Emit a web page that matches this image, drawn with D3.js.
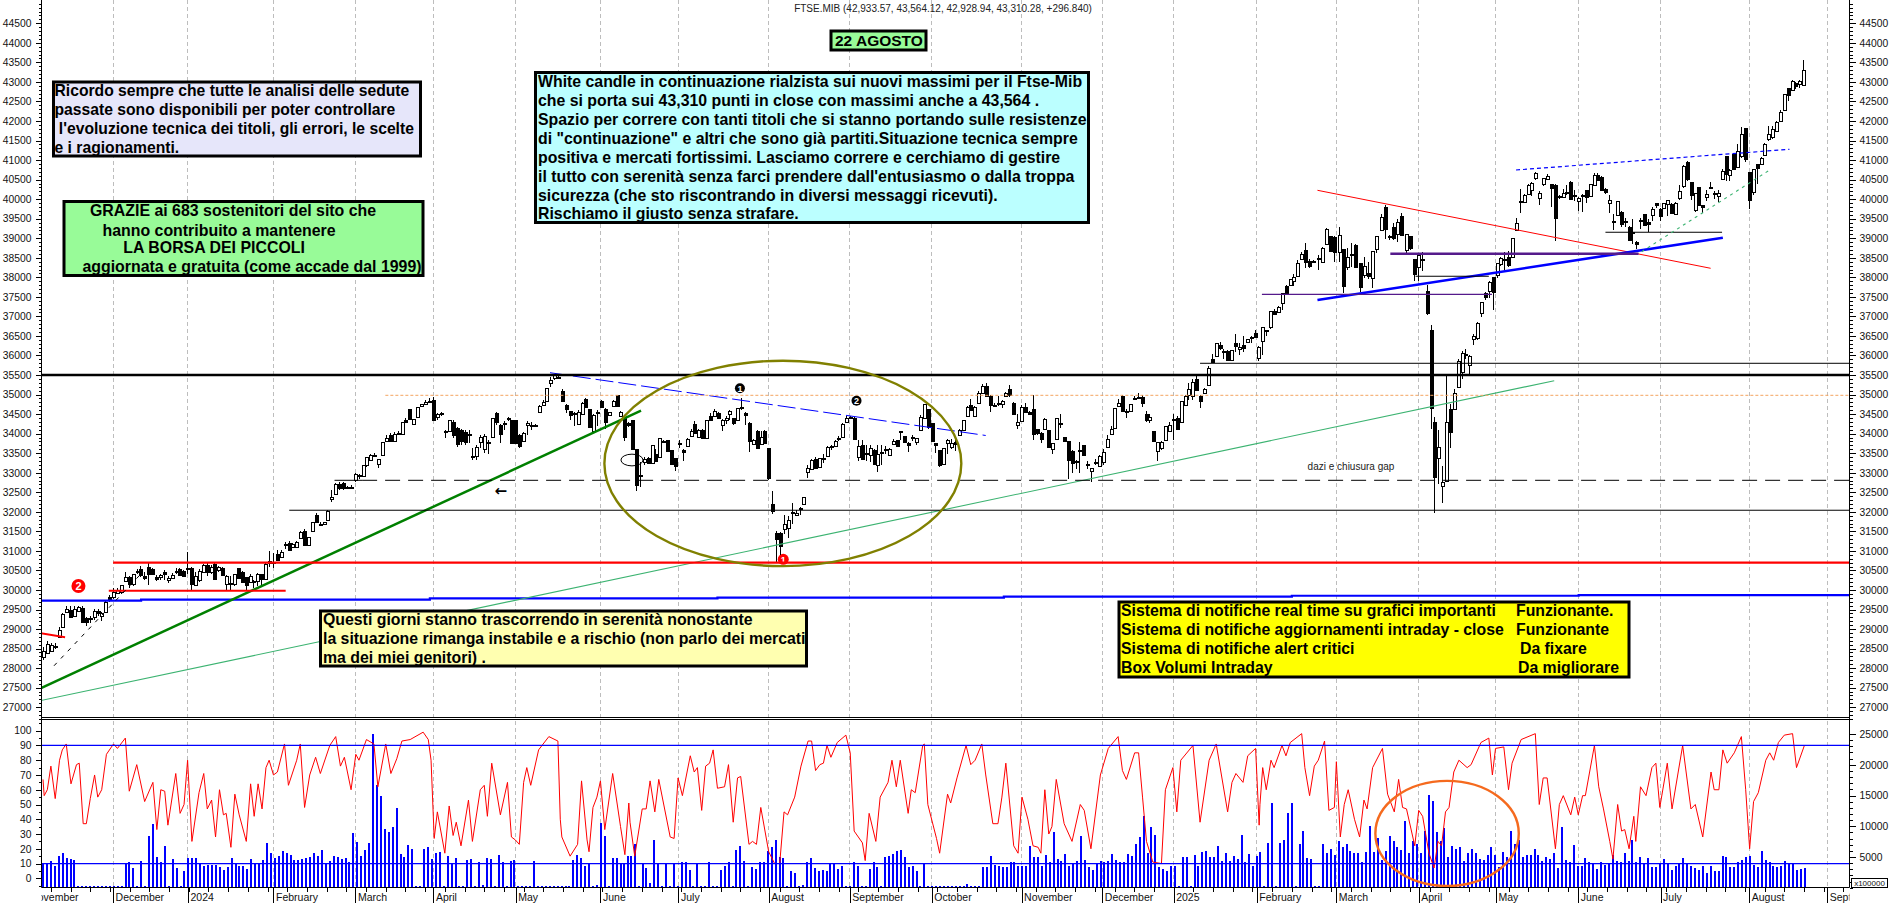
<!DOCTYPE html>
<html><head><meta charset="utf-8">
<style>html,body{margin:0;padding:0;background:#fff;overflow:hidden}svg{display:block}</style>
<script src="https://cdnjs.cloudflare.com/ajax/libs/d3/7.8.5/d3.min.js"></script>
</head><body><svg id="c" width="1890" height="903"></svg>
<script>
// ---- candles: [open, close, high, low] ----
const candlesA=[
[28300,28450,28550,28200],[28400,28620,28700,28350],[28450,28600,28650,28400],[28570,28560,28650,28480],[28790,28980,29050,28760],[29040,29380,29400,29020],[29430,29510,29600,29400],[29490,29300,29580,29280],[29350,29520,29580,29300],[29470,29570,29600,29450],[29540,29190,29580,29180],[29280,29190,29300,29080],[29280,29250,29340,29150],[29320,29470,29520,29220],[29450,29400,29520,29330],[29335,29400,29430,29200],[29450,29700,29720,29440],[29820,29760,29880,29700],[29830,29950,30050,29780],[29915,30000,30060,29900],
[29950,30120,30130,29900],[30230,30340,30460,30200],[30330,30150,30360,30050],[30150,30410,30420,30100],[30490,30470,30530,30400],[30530,30370,30620,30330],[30370,30320,30450,30250],[30600,30410,30680,30120],[30540,30420,30560,30400],[30320,30280,30380,30220],[30320,30380,30400,30260],[30450,30390,30520,30260],[30260,30310,30350,30180],[30310,30390,30440,30280],[30470,30490,30560,30400],[30530,30370,30560,30360],[30490,30370,30500,30360],[30560,30540,30980,30420],[30570,30150,30600,30000],[30130,30370,30450,30120],
[30240,30480,30540,30200],[30450,30630,30660,30430],[30630,30460,30680,30360],[30470,30600,30640,30400],[30660,30280,30700,30260],[30510,30580,30620,30450],[30550,30370,30580,30350],[30160,30370,30380,30000],[30150,30170,30360,29980],[30150,30400,30420,30100],[30550,30300,30570,30280],[30470,30220,30490,30190],[30320,30110,30340,29970],[30210,30360,30400,30190],[30230,30220,30260,30050],[30230,30400,30430,30090],[30400,30270,30420,30120],[30270,30660,30680,30250],[30700,30740,31000,30600],[30720,30700,30950,30560],
[30910,30750,31030,30740],[30840,30980,31010,30820],[31170,31160,31220,31060],[31190,31000,31260,30990],[31110,31180,31200,31080],[31100,31220,31250,31080],[31320,31480,31500,31300],[31510,31150,31560,31130],[31150,31350,31360,31140],[31490,31730,31740,31480],[31920,31750,31980,31740],[31690,31680,31740,31650],[31680,31730,31750,31660],[31800,32030,32050,31780],[32320,32370,32560,32260],[32470,32720,32740,32440],[32700,32600,32760,32570],[32730,32590,32750,32570],[32640,32630,32660,32600],[32640,32620,32680,32600],
[32800,32960,32990,32770],[32930,32920,32970,32850],[32910,33190,33200,32890],[33180,33390,33400,33150],[33330,33450,33480,33300],[33460,33450,33510,33410],[33210,33340,33360,33130],[33460,33780,33790,33430],[33830,33900,33970,33810],[33970,33820,34020,33800],[33810,34000,34030,33790],[34020,34010,34080,33980],[33990,34290,34310,33980],[34340,34300,34390,34280],[34630,34370,34640,34360],[34230,34370,34380,34220],[34420,34680,34690,34410],[34720,34760,34770,34710],[34750,34810,34850,34730],[34830,34800,34900,34790],
[34860,34350,34940,34340],[34420,34500,34520,34350],[34520,34510,34560,34440]];
const candlesB=[
[34070,34060,34100,33900],[34070,34340,34350,34060],[34300,33970,34340,33900],[34150,33750,34170,33650],[34090,33800,34120,33700],[34050,33800,34090,33720],[33990,33980,34100,33750],[33430,33420,33640,33320],[33430,33650,33700,33320],[33770,33905,33960,33620],[33600,33940,34000,33500],[33780,33770,33850,33490],[33900,34390,34400,33880],[34520,34280,34560,34230],[34220,33980,34240,33770],[34270,34260,34330,34100],[34390,34370,34420,34320],[34350,33770,34360,33760],[34350,33770,34360,33760],[33960,33670,33990,33640],
[33800,34010,34040,33780],[34210,34270,34330,33970],[34210,34200,34290,34100],[34210,34200,34240,34180],[34545,34710,34730,34530],[34750,34820,34850,34700],[34820,35160,35170,34810],[35305,35370,35450,35200],[35420,35500,35530,35380],[35450,35440,35530,35430],[35100,34845,35130,34830],[34733,34620,34760,34530],[34570,34480,34580,34350],[34520,34530,34560,34200],[34265,34560,34600,34230],[34520,34790,34810,34510],[34890,34690,34900,34680],[34630,34180,34640,34170],[34080,34480,34490,34070],[34550,34540,34600,34200],
[34844,34690,34860,34680],[34640,34310,34650,34120],[34480,34545,34560,34470],[34720,34845,34860,34700],[34980,34690,35000,34680],[34460,34560,34580,34440],[34410,33920,34420,33810],[34260,34200,34300,34180],[34350,33620,34360,33590],[33600,32690,33610,32520],[32950,32940,33270,32630],[33260,33340,33400,33210],[33370,33240,33400,33230],[33240,33710,33720,33230],[33490,33320,33610,33280],[33390,33880,33890,33380],[33820,33810,33840,33780],[33840,33560,33850,33550],[33580,33220,33590,33200],[33370,33170,33380,33050],
[33770,33760,33850,33620],[33580,33520,33600,33310],[33680,33870,33880,33660],[33950,34080,34120,33930],[34240,34020,34330,34000],[33920,34090,34110,33900],[34090,33880,34110,33860],[33880,34350,34360,33870],[34450,34350,34530,34340],[34460,34590,34620,34450],[34520,34390,34560,34370],[34220,34350,34370,34080],[34350,34410,34440,34250],[34500,34580,34600,34340],[34390,34250,34410,34230],[34350,34650,34660,34340],[34680,34670,34900,34600],[34520,34480,34560,34210],[34280,33820,34290,33540],[33750,33850,33860,33730],
[34080,33650,34100,33630],[33750,33920,34080,33740],[34080,33780,34100,33770],[33625,32860,33630,32820],[32210,32040,32540,31950],[31470,31320,31500,30700],[31470,31150,31490,30900],[31560,31680,31930,31420],[31580,31790,31900,31330],[31990,32000,32220,31680],[31910,31960,32050,31880],[32100,32080,32130,31930],[32200,32370,32380,32190],[33000,33110,33200,32860],[33090,33330,33340,33080],[33350,33110,33400,33100],[33130,33370,33380,33120],[33370,33350,33480,33240],[33440,33670,33680,33430],[33690,33680,33720,33580],
[33670,33810,33840,33650],[33900,33880,33930,33820],[33920,34240,34260,33900],[34290,34390,34440,34280],[34420,34400,34460,34380],[34410,33880,34420,33840],[33410,33690,33850,33300],[33710,33340,33830,33330],[33500,33490,33700,33300],[33435,33620,33720,33280],[33580,33210,33600,33200],[33210,33490,33700,33020]];
const candlesC=[
[33540,33530,33700,33200],[33580,33600,33690,33480],[33435,33600,33620,33420],[33725,33810,33860,33700],[33835,33680,33850,33660],[34050,34060,34060,33830],[33940,33795,33950,33780],[33770,33710,33790,33530],[33920,33910,33960,33800],[33770,33880,33900,33720],[34110,34430,34470,34090],[34410,34760,34770,34400],[34630,34160,34640,34130],[34260,33810,34270,33790],[33750,33690,33760,33500],[33580,33200,33590,33150],[33215,33625,33630,33210],[33750,33835,33860,33490],[33670,33770,33860,33600],[33780,33730,33890,33550],
[33950,34090,34120,33930],[34090,34340,34350,34070],[34460,34690,34700,34440],[34740,34620,34880,34600],[34460,34690,34700,34440],[34790,35050,35080,34780],[35050,35230,35260,35040],[35220,34970,35290,34960],[34970,34730,34980,34550],[34740,34730,34790,34720],[34790,34770,34960,34720],[34750,34830,34860,34650],[34970,35050,35070,34950],[35130,34970,35240,34950],[34775,34500,34810,34490],[34240,34310,34500,34110],[34330,34690,34740,34320],[34680,34560,34790,34540],[34560,34510,34570,34500],[34630,33990,34990,33840],
[34120,34010,34130,33960],[34020,33855,34040,33770],[34110,34365,34390,34100],[34090,33650,34100,33640],[33600,33750,33770,33480],[33855,34390,34400,33840],[34270,34260,34510,34150],[33905,33795,33910,33780],[33810,33325,33820,32830],[33565,33260,33580,33000],[33310,33300,33330,33100],[33570,33560,33780,32990],[33710,33455,33720,33430],[33230,33220,33310,33090],[33030,33110,33120,32760],[33280,33270,33340,33200],[33180,33435,33450,33170],[33265,33520,33600,33200],[33650,33855,33960,33640],[33980,34110,34200,33960],
[34135,34650,34660,34120],[34690,34775,34880,34680],[34970,34580,35000,34560],[34570,34560,34620,34400],[34580,34760,34770,34570],[34900,34890,34960,34880],[34950,34940,35030,34910],[34930,34775,34980,34670],[34500,34350,34570,34300],[34350,34430,34510,34280],[34065,33810,34070,33780],[33540,33780,33790,33310],[33650,33795,33810,33580],[33840,34195,34200,33830],[34075,34220,34300,34060],[34380,34370,34500,33830],[34390,34120,34450,34110],[34290,34825,34830,34280],[34750,34970,35000,34730],[34970,35135,35290,34870],
[34960,35330,35400,34860],[35390,35100,35480,35090],[34970,34840,35000,34660],[35050,35140,35160,35030],[35245,35670,35740,35230],[35910,35840,36040,35800],[35970,36310,36320,35960],[36260,36180,36350,36150],[36120,36110,36170,35910],[36120,35880,36130,35860],[35880,36130,36140,35870],[36310,36225,36540,36100],[36160,36210,36310,36000],[36260,36175,36510,36100],[36335,36410,36420,36330],[36480,36470,36500,36320],[36570,36480,36660,36450],[35950,36225,36240,35850],[36370,36735,36740,36000],[36640,36630,36660,36500],
[36710,37130,37140,36690],[37145,37080,37190,37050],[37130,37250,37260,37120],[37335,37590,37600,37170],[37780,37575,37800,37560],[37800,37950,37960,37790],[37900,38000,38080,37780],[38030,38360,38440,38020]];
const candlesD=[
[38470,38590,38650,38440],[38700,38385,38885,38230],[38420,38290,38460,38230],[38420,38400,38450,38380],[38480,38500,38560,38200],[38385,38740,38780,38370],[38840,39235,39250,38830],[39060,38665,39070,38650],[39040,38660,39050,38390],[38660,39085,39280,38400],[38716,37760,38720,37600],[38276,38530,38760,38200],[38590,38600,38880,38260],[38827,38255,38840,38250],[38358,37735,38360,37620],[38070,38300,38530,37980],[38100,38017,38400,37950],[37975,38670,38680,37720],[38716,39057,39070,38620],[39210,39550,39620,39180],
[39800,39228,39840,38970],[39030,39050,39080,38950],[39280,39000,39400,38950],[39105,39405,39500,38900],[39570,39080,39650,39060],[38700,39105,39110,38600],[39057,38760,39060,38700],[38470,38085,38480,37910],[38275,38570,38620,37900],[38460,38450,38640,38150],[37650,37080,37810,37040]];
const candlesE=[
[36650,34650,36780,34130],[34290,32880,34420,31960],[33390,33670,34090,32700],[32640,32750,33170,32230],[32810,34310,35500,32800],[34630,34050,34760,33640],[34650,35050,35130,34600],[35200,35870,35900,35190],[35590,36070,36110,35410],
[36040,36030,36170,35900],[35760,35990,36000,35520],[36410,36490,36550,36260],[36440,36820,36850,36400],[37075,37360,37380,36980],[37590,37490,37620,37430],[37660,37890,37900,37480],[38015,37630,38020,37160],[38060,38360,38370,37980],[38340,38500,38510,38280],[38470,38480,38650,38200],[38510,38300,38670,38270],[38510,39000,39010,38500],[39210,39380,39510,39190],[39960,39960,40270,39640],[39935,40105,40140,39900],[40130,40360,40380,40110],[40230,40420,40430,40070],[40540,40680,40700,40500],[40050,40170,40200,39860],
[40370,40530,40540,40340],[40525,40590,40640,40500],[40380,40280,40400,39800],[40360,39510,40380,38940],[40070,40060,40100,40000],[40050,40150,40250,40030],[40190,40180,40350,40100],[40450,40020,40460,39980],[40110,40100,40240,39950],[39960,40040,40060,39690],[40100,40090,40130,39680],[40230,40060,40240,39900],[40080,40380,40390,40060],[40360,40620,40680,40350],[40620,40490,40680,40480],[40575,40235,40590,40220],[40270,40200,40290,40130],[39910,39980,40110,39650],[39450,39440,39630,39200],[39595,39950,39960,39580],
[39680,39380,39690,39300],[39450,39440,39520,39280],[39300,38955,39310,38950],[39150,39140,39500,38850],[38910,38850,38920,38720],[39470,39460,39510,39230],[39620,39340,39630,39330],[39420,39370,39480,39170],[39610,39760,39790,39440],[39890,39830,39910,39780],[39760,39570,39770,39450],[39765,39890,39900,39750],[39875,39970,39990,39580],[39875,39640,39890,39610],[39640,39910,39920,39600],[40040,40210,40370,39990],[40335,40855,40880,40290],[40960,40530,40965,40460],[40430,40105,40440,39990],[39720,40150,40170,39680],
[40300,39850,40310,39830],[39850,39790,39860,39650],[40070,40140,40240,39960],[40310,40300,40450,40290],[40170,40160,40200,40000],[40100,40170,40240,39920],[40530,40730,40760,40490],[41105,40635,41110,40470],[40620,40740,40760,40470],[41150,40760,41190,40740],[40830,41240,41400,40790],[41085,41660,41840,41060],[41810,41020,41820,40950],[40685,39960,40690,39750],[40175,40765,40780,40100],[40890,40790,40900,40390],[40890,41045,41070,40880],[41145,41420,41430,41100],[41530,41665,41860,41500],[41580,41785,41880,41550],
[41755,41975,41990,41740],[42010,42240,42290,42000],[42280,42680,42690,42270],[42835,42650,42850,42510],[42795,43030,43040,42780],[42960,42880,43000,42820],[42950,43030,43050,42850],[42933.57,43310.28,43564.12,42928.94]];
// first and last session of each candle block
const candleSpans=[[0,100.9],[102.1,211.8],[212.7,318.4],[319.3,351.2],[352.2,446.8]];

// ---- volume by period ----
const volumesA=[3890,4000,4370,3620,5240,5670,4860,4700,4540,220,220,220,220,220,220,220,220,220,220,220,220,4050,4270,3240,220,4320,220,8480,10370,5080,4210,6800,220,4700,3190,220,2810,4910,4910,4910,4050,3620,3780,3670,3780,3400,2920,3460,4910,3890,3620,3510,3080,4700,3890,3890,4590,7290,5720,4860,5180,6050,5720,5400,4540,4590,4640,4860,5080,5620,5180,6210,4050,4430,5180,5080,4640,4860,4210,8910,7450,5130,6160,7340,25060,16740,14960,9560,9020,9880,12960,5560,5080,6970,6320,220,220,6370,6700,4750,5720,5830,220,5240,4050,4860,220,220,4480,4700,220,4270,380,4910,4700,220,5350,4210,220,4430,4590,220,220,220,220,4430,220,220,220,220,220,220,220,220,220,4480,5350,4860,3560,4100,220,380,10530,8480,220,4910,4860,3890,4100,5240];
const volumesB=[5240,7150,220,3890,3240,760,7840,3890,220,4050,220,3890,220,4270,4270,2970,220,3890,220,220,4270,220,220,2970,3510,4270,220,6160,6870,4370,220,3460,3030,4210,4270,6050,6590,7840,4970,4910,220,2750,2430,220,380,4210,4800,3240,2700,2970,2700,3890,3890,3130,3510,220,220,4270,3510,220,220,3030,4270,3460,220,4970,5240,5510,5940,6160,5080,3350,3510,2700,220,3890,220,220,220,220,220,220,220,220,220,220,540,220,220,220,3460,3350,5130,3730,3620,3350,3460,4160,4270,3510,3510,3510,6750,5080,4970,3620,5400,4270,9140,4700,4430,5510,3510,4050,4430,8390,4590,3460,2920,3890,4430,4270,4430,5510,4540,4270,4160,5510,5240,7150,8210,11750,5620,9840,8640,3460,3080,2700,3620,3510,220,5080,4970,220,5350,3620,5780,5940,4970,5080,6870,4430,5670,4430,5240,4700,8640,4160,5510,3510,5130];
const volumesC=[5780,220,7240,13800,220,7240,7780,12170,13800,220,7040,9300,4860,4700,220,220,7150,5620,6370,5400,7680,6700,7150,6050,5620,5670,4270,5780,10120,5780,8110,4540,5940,8480,7680,6590,6160,10930,5620,7680,7040,5720,9300,15160,14180,9140,7580,9740,4970,6800,6320,6700,4430,5670,6370,5670,4700,4540,5400,6700,5400,3460,5890,4970,9300,7150,7840,5080,5400,5400,6320,5400,4430,4970,4700,5620,3240,9840,4540,4270,6970,3620,3620,4860,4270,3890,3080,4270,3730,3890,5350,4320,4160,5620,4430,7840,4160,4970,4000,4860,3460,3460,3890,4640,4000,2920,3620,3890,4910,4050,3510,3190,2920,3510,2430,3510,2810,2650,5130,4970,3460,3460,4160,4540,4970,5130,3780,3460,6050,4540,4160,3620,3350,3510,4430,4050,4050,2970,3080,3240];

// ---- oscillator: [session, value] ----
const oscillatorA=[[0,67],[0.3,56],[1.1,60],[2,76],[3.1,54],[4.2,80],[4.9,87],[5.9,91],[7.1,64],[8.5,77],[9.2,78],[10.2,37],[11,37],[12,54],[13.1,70],[13.9,55],[14.9,60],[16.1,84],[17.9,91],[18.9,88],[20.9,95],[21.9,59],[23.8,77],[25.8,52],[27.9,65],[28.9,33],[29.9,60],[30.9,59],[31.7,36],[33.7,71],[34.8,44],[35.8,50],[36.7,80],[37.8,25],[39.6,58],[40.8,71],[41.7,47],[42.8,53],[43.8,28],[44.8,60],[45.8,43],[46.5,44],[47.7,21],[48.7,57],[49.8,43],[51.6,25],[52.7,64],[53.6,42],[54.6,64],[55.6,47],[56.6,75],[57.4,80],[58.5,70],[59.5,72],[61.3,91],[62.3,63],[64.4,80],[65.3,91],[66.4,48],[67.7,70],[69.2,82],[70.4,71],[72.8,90],[74.3,96],[75.5,76],[76.5,82],[78.2,60],[79.4,84],[80.2,80],[82.1,94],[84,91],[85,62],[87,91],[88.3,71],[89.8,81],[91.1,93],[93.2,94],[96.5,99],[97.8,94],[98.5,80],[99.3,27],[100.1,45],[102,17],[103.1,49],[104.1,29],[104.9,38],[106.1,22],[108,53],[109,25],[111,60],[112,63],[112.8,42],[113.9,78],[116.1,43],[117.9,65],[118.9,28],[119.9,26],[120.9,23],[122,65],[122.8,75],[123.8,63],[125.8,87],[128.4,96],[130.7,93],[131.3,40],[131.7,28],[133.8,15],[135.7,23],[136.7,66],[138.1,26],[138.6,18],[139.6,48],[140.6,55],[141.5,66],[142.6,33],[144.6,71],[146.6,35],[147.7,16],[148.7,51]];
const oscillatorB=[[149,38],[150.2,15],[152.1,47],[153.1,47],[154.1,66],[155.3,45],[156.3,67],[159.2,28],[160.2,27],[161.2,68],[162.3,56],[164.3,83],[165.3,72],[166.1,75],[167.2,46],[168.2,76],[169.2,78],[170.1,87],[171.2,61],[173,62],[174,77],[175.2,38],[176.3,68],[177.1,69],[179.2,23],[180.1,25],[181.1,23],[182.2,48],[184.2,18],[185.7,10],[187,10],[188.1,45],[189,43],[190.8,55],[192.4,76],[194.2,93],[195.1,93],[196.1,73],[197.2,77],[198.1,78],[199,90],[200,82],[201.6,92],[203.8,97],[204.9,85],[205.9,32],[208,24],[208.7,12],[209.7,44],[211.4,25],[212.5,55],[214.5,65],[215.5,80],[216.6,62],[217.6,80],[219.6,44],[220.4,60],[221.4,58],[223.3,90],[223.7,91],[224.6,50],[226.8,27],[227.6,17],[229.6,57],[230.4,51],[232,68],[234.3,90],[235.5,77],[236.6,80],[238.3,91],[239.3,70],[241.1,37],[242.4,37],[243.4,55],[244.4,78],[246.4,22],[247.5,17],[248.5,55],[250,40],[251.3,22],[252.6,21],[253.3,17],[254.3,60],[255.3,30],[256.1,35],[257.2,67],[259.2,37],[261.2,25],[263.3,50],[264.3,46],[266,20],[268.4,70],[270.4,88],[272.9,96],[274,73],[275,67],[277.1,85],[278.1,85],[279.1,55],[280.1,25],[281.7,11],[283.9,10],[284.9,60],[286.8,75],[287.8,45],[288.8,80],[291.9,90],[293.7,38],[296,80],[297.8,91],[300.7,45],[301.8,65],[302.8,71],[304.6,65],[305.8,83],[307.8,88],[308.7,36]];
const oscillatorC=[[308.9,50],[309.6,75],[310.5,60],[311.7,80],[312.5,75],[314.5,90],[315.5,83],[316.6,92],[319.5,98],[320.3,75],[321.5,56],[322.7,76],[323.7,80],[325.3,93],[326.4,46],[327.8,48],[328.3,79],[329.3,28],[330.3,50],[331.3,60],[332.9,40],[334.2,28],[335.3,53],[336.1,47],[337.5,75],[340,88],[341.3,57],[343,45],[344.1,67],[345.1,48],[346.1,47],[348.2,22],[349.2,46],[350.2,42],[351.8,17],[353.1,7],[354.1,25],[355,22],[356,45],[356.9,48],[358.1,72],[359.4,80],[361.5,75],[362.5,77],[365,92],[367,95],[367.9,70],[368.7,88],[370.8,89],[372,60],[372.9,78],[375.2,94],[378.8,98],[379.8,50],[380.8,68],[381.8,68],[383.9,20],[384.9,50],[385.9,56],[387.8,43],[388.8,55],[389.7,43],[390.8,56],[391.5,56],[393.8,90],[394.9,62],[396.1,47],[397.7,25],[398.5,13],[399.7,50],[400.7,32],[401.5,33],[402.6,20],[403.8,42],[404.3,25],[405.5,62],[406.9,56],[408.4,75],[409.4,78],[410.4,48],[412.3,78],[413.5,47],[416.2,90],[418.3,47],[419.4,50],[421.3,28],[423.4,72],[424.2,60],[425.4,60],[426.4,87],[427.5,78],[429.3,85],[431.1,96],[432.2,60],[433.2,20],[434.2,52],[435.4,58],[437.3,80],[438.3,85],[439.3,80],[440.5,92],[442,97],[444.1,98],[445.1,75],[447.1,90]];

// ---- axes: ticks and month labels ----
const priceTicks=d3.range(27000,45000,500);
const priceMinor=d3.range(26700,45100,100);
const oscTicks=d3.range(0,101,10);
const oscMinor=d3.range(-5,106,5);
const volTicks=[5000,10000,15000,20000,25000];
const volMinor=d3.range(0,26000,1000);
const monthSessions=[-3.9,17.8,36.8,58.5,79.3,99.1,120,141.5,161.3,184.2,204.8,225.6,248.4,268.9,287,308.1,328.3,349.2,368.8,389.7,410.6,433.1,452.9];
const monthLabels=["November","December","2024","February","March","April","May","June","July","August","September","October","November","December","2025","February","March","April","May","June","July","August","September"];

// ---- hand-drawn analysis: [session, price] pairs ----
const blueSteps=[[-1,29726],[24.9,29751],[98.2,29785],[171.2,29802],[243.9,29827],[317,29852],[389.8,29870],[459,29870]];
const trendLines=[
 {p:[[-1,27466],[151.8,34587]],c:"#008000",w:2.5},
 {p:[[-1,27160],[383.6,35355]],c:"#3cb371",w:1.1},
 {p:[[128.7,35559],[239.3,33953]],c:"#0000ff",w:1,d:"18 5"},
 {p:[[-1,35500],[459,35500]],c:"#000",w:2.4},
 {p:[[293.7,35800],[459,35800]],c:"#000",w:1},
 {p:[[74,32806],[81,32806]],c:"#000",w:1},
 {p:[[81,32806],[459,32806]],c:"#000",w:1,d:"15 8"},
 {p:[[62.5,32040],[459,32040]],c:"#000",w:1},
 {p:[[17.8,30697],[459,30697]],c:"#ff0000",w:2.2},
 {p:[[16.7,29980],[61.6,29980]],c:"#ff0000",w:1.8},
 {p:[[-1,28900],[5.6,28790]],c:"#ff0000",w:1.8},
 {p:[[86.9,34981],[459,34981]],c:"#f4a460",w:1,d:"3 2"},
 {p:[[323.5,40227],[423.3,38231]],c:"#ff0000",w:1},
 {p:[[323.5,37420],[426.4,39014]],c:"#0000ff",w:2.6},
 {p:[[342,38604],[405,38604]],c:"#551a8b",w:2.6},
 {p:[[309.4,37565],[367.8,37565]],c:"#551a8b",w:1.2},
 {p:[[348.4,38026],[367,38026]],c:"#000",w:1.1},
 {p:[[396.6,39152],[426.2,39152]],c:"#000",w:1.1},
 {p:[[373.9,40746],[443.3,41276]],c:"#0000ff",w:1.2,d:"4 3"},
 {p:[[405.8,38656],[438.3,40746]],c:"#3cb371",w:1.1,d:"3 4"},
 {p:[[2.8,28060],[24.6,30383]],c:"#000",w:1,d:"4 6"}
];
const bubbles=[
 {s:9,v:30101,t:"2",f:"#ff0000",r:7,fs:11},
 {s:187.9,v:30785,t:"1",f:"#ff0000",r:5.5,fs:9},
 {s:176.9,v:35160,t:"1",f:"#000",r:5,fs:9},
 {s:206.5,v:34843,t:"2",f:"#000",r:5,fs:9}
];

// ---- text boxes ----
const box1=["Ricordo sempre che tutte le analisi delle sedute","passate sono disponibili per poter controllare"," l'evoluzione tecnica dei titoli, gli errori, le scelte","e i ragionamenti."];
const box2=["GRAZIE ai 683 sostenitori del sito che","hanno contribuito a mantenere","LA BORSA DEI PICCOLI","aggiornata e gratuita (come accade dal 1999)"];
const box3=["White candle in continuazione rialzista sui nuovi massimi per il Ftse-Mib","che si porta sui 43,310 punti in close con massimi anche a 43,564 .","Spazio per correre con tanti titoli che si stanno portando sulle resistenze","di \"continuazione\" e altri che sono già partiti.Situazione tecnica sempre","positiva e mercati fortissimi. Lasciamo correre e cerchiamo di gestire","il tutto con serenità senza farci prendere dall'entusiasmo o dalla troppa","sicurezza (che sto riscontrando in diversi messaggi ricevuti).","Rischiamo il giusto senza strafare."];
const box4=["Questi giorni stanno trascorrendo in serenità nonostante","la situazione rimanga instabile e a rischio (non parlo dei mercati","ma dei miei genitori) ."];
const box5=["Sistema di notifiche real time su grafici importanti","Sistema di notifiche aggiornamenti intraday - close","Sistema di notifiche alert critici","Box Volumi Intraday"];
const box5status=["Funzionante.","Funzionante","Da fixare","Da migliorare"];
const titleText="FTSE.MIB (42,933.57, 43,564.12, 42,928.94, 43,310.28, +296.840)";

// ---- layout ----
const FONT="'Liberation Sans',Arial,sans-serif";
const L=41.5,R=1849.5,AX=887.5;
const svg=d3.select("#c").style("font-family",FONT);
const x=d3.scaleLinear().domain([0,447]).range([43,1804]);
const y=d3.scaleLinear().domain([27000,44500]).range([707.2,23.3]);
const oy=d3.scaleLinear().domain([0,100]).range([878.3,730.7]);
const vy=d3.scaleLinear().domain([0,25000]).range([887.8,734]);
const defs=svg.append("defs");
defs.append("clipPath").attr("id","plot").append("rect").attr("x",L).attr("y",0).attr("width",R-L).attr("height",718);
defs.append("clipPath").attr("id","low").append("rect").attr("x",L).attr("y",720).attr("width",R-L).attr("height",168);
defs.append("clipPath").attr("id","mon").append("rect").attr("x",L).attr("y",880).attr("width",R-L).attr("height",23);

// month grid
svg.append("g").selectAll("line").data(monthSessions.slice(1)).join("line")
 .attr("x1",d=>x(d)).attr("x2",d=>x(d)).attr("y1",0).attr("y2",AX)
 .attr("stroke","#bdbdbd").attr("stroke-dasharray","4 3").attr("stroke-width",1).attr("shape-rendering","crispEdges");

// price panel
const plot=svg.append("g").attr("clip-path","url(#plot)");
const ln=d3.line().x(d=>x(d[0])).y(d=>y(d[1]));
plot.selectAll("circle.b").data(bubbles.slice(1,2)).join("circle").attr("cx",d=>x(d.s)).attr("cy",d=>y(d.v)).attr("r",d=>d.r).attr("fill",d=>d.f);
plot.append("text").attr("x",x(187.9)).attr("y",y(30785)+3.5).attr("text-anchor","middle").attr("fill","#fff").attr("font-size",9).attr("font-weight","bold").text("1");
plot.append("ellipse").attr("cx",x(149.5)).attr("cy",y(33325))
 .attr("rx",x(2.8)-x(0)).attr("ry",y(33325)-y(33325+150))
 .attr("fill","none").attr("stroke","#000").attr("stroke-width",1);

// candles
const candles=[candlesA,candlesB,candlesC,candlesD,candlesE].flatMap((block,b)=>{
 const s=d3.scaleLinear().domain([0,block.length-1]).range(candleSpans[b]);
 return block.map((c,i)=>({o:c[0],c:c[1],h:c[2],l:c[3],s:s(i)}));
});
const cg=plot.append("g").attr("shape-rendering","crispEdges");
cg.selectAll("line").data(candles).join("line")
 .attr("x1",d=>Math.round(x(d.s))+.5).attr("x2",d=>Math.round(x(d.s))+.5)
 .attr("y1",d=>y(d.h)).attr("y2",d=>y(d.l)).attr("stroke","#000").attr("stroke-width",1);
cg.selectAll("rect").data(candles).join("rect")
 .attr("x",d=>Math.round(x(d.s))-1).attr("width",3)
 .attr("y",d=>Math.round(y(Math.max(d.o,d.c))))
 .attr("height",d=>Math.max(1,Math.round(Math.abs(y(d.o)-y(d.c)))))
 .attr("fill",d=>d.c>=d.o?"#fff":"#000").attr("stroke","#000").attr("stroke-width",1);

// trend lines
plot.append("path").attr("d",d3.line().x(d=>x(d[0])).y(d=>y(d[1])).curve(d3.curveStepAfter)(blueSteps))
 .attr("fill","none").attr("stroke","#0000ff").attr("stroke-width",2.2);
plot.selectAll("path.t").data(trendLines).join("path").attr("class","t")
 .attr("d",d=>ln(d.p)).attr("fill","none").attr("stroke",d=>d.c).attr("stroke-width",d=>d.w)
 .attr("stroke-dasharray",d=>d.d||null);

// ellipse
plot.append("ellipse").attr("cx",x(187.8)).attr("cy",y(33238))
 .attr("rx",x(45.3)-x(0)).attr("ry",y(33238)-y(33238+2628))
 .attr("fill","none").attr("stroke","#808000").attr("stroke-width",2.4);

// bubbles
const bb=plot.selectAll("g.bub").data([bubbles[0],bubbles[2],bubbles[3]]).join("g").attr("class","bub");
bb.append("circle").attr("cx",d=>x(d.s)).attr("cy",d=>y(d.v)).attr("r",d=>d.r).attr("fill",d=>d.f);
bb.append("text").attr("x",d=>x(d.s)).attr("y",d=>y(d.v)+d.fs*.36).attr("text-anchor","middle")
 .attr("fill","#fff").attr("font-size",d=>d.fs).attr("font-weight","bold").text(d=>d.t);
plot.append("text").attr("x",x(116.2)).attr("y",y(32540)+5).attr("text-anchor","middle").attr("font-size",15).attr("font-weight","bold").attr("font-family","'DejaVu Sans'").text("←");
plot.append("text").attr("x",x(321)).attr("y",y(33154)+3.5).attr("font-size",10).attr("fill","#222").text("dazi e chiusura gap");

// lower panel
const low=svg.append("g").attr("clip-path","url(#low)");
function volG(arr,a,b){
 const s=d3.scaleLinear().domain([0,arr.length-1]).range([x(a),x(b)]);
 low.append("g").attr("shape-rendering","crispEdges").selectAll("rect").data(arr).join("rect")
  .attr("x",(d,i)=>Math.round(s(i))-1).attr("width",2).attr("y",d=>vy(d)).attr("height",d=>vy(0)-vy(d)).attr("fill","#0000ff");
}
volG(volumesA,0,148.6);volG(volumesB,149.2,308.2);volG(volumesC,309,447.2);
low.append("path").attr("d",d3.line().x(d=>x(d[0])).y(d=>oy(d[1]))([...oscillatorA,...oscillatorB,...oscillatorC]))
 .attr("fill","none").attr("stroke","#ff0000").attr("stroke-width",1).attr("stroke-linejoin","round");
[90,10].forEach(v=>low.append("line").attr("x1",L).attr("x2",R).attr("y1",oy(v)).attr("y2",oy(v)).attr("stroke","#0000ff").attr("stroke-width",1.2));
low.append("ellipse").attr("cx",x(356.4)).attr("cy",oy(30.4)).attr("rx",x(18.2)-x(0)).attr("ry",oy(0)-oy(35.6))
 .attr("fill","none").attr("stroke","#f56a1e").attr("stroke-width",2.4);

// frame
[717.5,719.5].forEach(v=>svg.append("line").attr("x1",L).attr("x2",R).attr("y1",v).attr("y2",v).attr("stroke","#000").attr("stroke-width",1));
svg.append("line").attr("x1",L).attr("x2",L).attr("y1",0).attr("y2",AX).attr("stroke","#000");
svg.append("line").attr("x1",R).attr("x2",R).attr("y1",0).attr("y2",AX).attr("stroke","#000");
svg.append("line").attr("x1",L).attr("x2",R).attr("y1",AX).attr("y2",AX).attr("stroke","#000");

// axes
function style(g,fs){g.select(".domain").remove();g.selectAll("text").attr("font-family",FONT).attr("font-size",fs).attr("fill","#111");g.selectAll(".tick line").attr("stroke","#000").attr("shape-rendering","crispEdges");}
function axis(gen,tx,scale,major,minor,fmt){
 const g=svg.append("g").attr("transform",`translate(${tx},0)`);
 g.call(gen(scale).tickValues(major).tickSize(6).tickPadding(4).tickFormat(fmt));style(g,10.3);
 const m=svg.append("g").attr("transform",`translate(${tx},0)`);
 m.call(gen(scale).tickValues(minor).tickSize(3).tickFormat(""));style(m,10);
}
const fd=d3.format("d");
axis(d3.axisLeft,L,y,priceTicks,priceMinor,fd);
axis(d3.axisRight,R,y,priceTicks,priceMinor,fd);
axis(d3.axisLeft,L,oy,oscTicks,oscMinor,fd);
axis(d3.axisRight,R,vy,volTicks,volMinor,fd);
const xa=svg.append("g").attr("clip-path","url(#mon)");
const xag=xa.append("g").attr("transform",`translate(0,${AX})`);
xag.call(d3.axisBottom(x).tickValues(monthSessions).tickSize(16).tickFormat((d,i)=>monthLabels[i]));
xag.select(".domain").remove();
xag.selectAll(".tick text").attr("font-family",FONT).attr("font-size",10.5).attr("fill","#111").attr("text-anchor","start").attr("x",2).attr("y",6).attr("dy","0.71em");
xag.selectAll(".tick line").attr("stroke","#000").attr("shape-rendering","crispEdges");
const xm=xa.append("g").attr("transform",`translate(0,${AX})`);
xm.call(d3.axisBottom(x).tickValues(d3.range(2,459,5)).tickSize(4).tickFormat(""));
xm.select(".domain").remove();xm.selectAll(".tick line").attr("stroke","#000").attr("shape-rendering","crispEdges");

// volume multiplier tag
svg.append("rect").attr("x",1851.5).attr("y",878.5).attr("width",36).attr("height",9).attr("fill","#fff").attr("stroke","#000");
svg.append("text").attr("x",1869.5).attr("y",886).attr("text-anchor","middle").attr("font-size",8).attr("fill","#111").text("x100000");

// title
svg.append("text").attr("x",943).attr("y",12).attr("text-anchor","middle").attr("font-size",10).attr("fill","#222").text(titleText);

// boxes
function box(bx,by,bw,bh,fill,lines,xs,ys,fs){
 svg.append("rect").attr("x",bx).attr("y",by).attr("width",bw).attr("height",bh).attr("fill",fill).attr("stroke","#000").attr("stroke-width",3);
 const g=svg.append("g").attr("font-weight","bold").attr("font-size",fs).attr("fill","#000");
 lines.forEach((t,i)=>g.append("text").attr("x",xs[i]).attr("y",ys[i]).attr("dy","0.36em").attr("xml:space","preserve").text(t));
}
box(53.5,82,367,74,"#e6e6fa",box1,[54.5,54.5,54.5,54.5],[90.7,109.7,128.7,147.7],15.7);
box(64,201.5,359,74,"#98fb98",box2,[90,102.5,123.3,82.4],[210.7,230,247.7,266.7],15.9);
box(535.5,72.5,553,150,"#bbffff",box3,[538,538,538,538,538,538,538,538],[81.7,100.7,119.7,138.7,157.7,176.7,195,213.3],15.85);
box(320.5,611,486,55,"#ffffb0",box4,[323,323,323],[619.3,638.3,657],15.85);
box(1119,602,510,75,"#ffff00",box5,[1121,1121,1121,1121],[610.7,629.7,648.7,667.7],15.8);
const g5=svg.append("g").attr("font-weight","bold").attr("font-size",15.8);
box5status.forEach((t,i)=>g5.append("text").attr("x",[1516,1516,1520,1518][i]).attr("y",[610.7,629.7,648.7,667.7][i]).attr("dy","0.36em").text(t));
box(831,31,95,19,"#98fb98",["22 AGOSTO"],[835],[40.5],15.5);
</script></body></html>
